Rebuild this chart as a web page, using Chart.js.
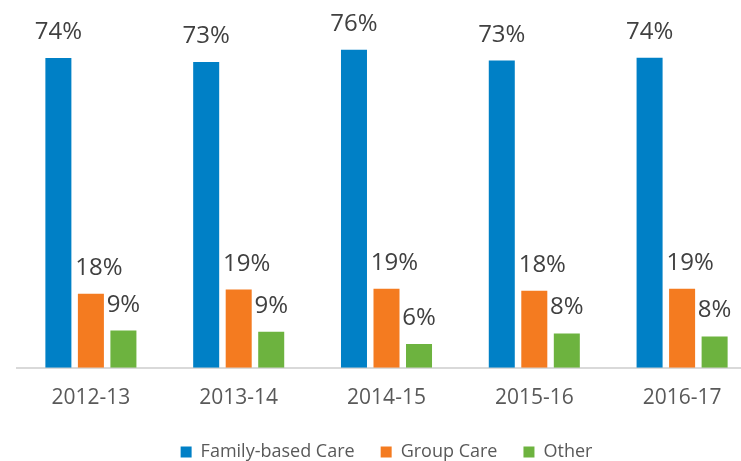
<!DOCTYPE html>
<html>
<head>
<meta charset="utf-8">
<script src="https://cdn.jsdelivr.net/npm/chart.js@4"></script>
<style>
  html, body { margin: 0; padding: 0; background: #fff; overflow: hidden; }
  .wrap { position: relative; width: 782px; height: 471px; }
</style>
</head>
<body>
<div class="wrap"><canvas id="careChart"></canvas></div>
<script>
// Placement type shares by year (percent)
const YEARS = ['2012-13', '2013-14', '2014-15', '2015-16', '2016-17'];
const FAMILY_CARE = [74.0, 73.1, 76.0, 73.4, 74.1];
const GROUP_CARE = [17.7, 18.7, 18.9, 18.4, 18.9];
const OTHER_CARE = [8.9, 8.6, 5.7, 8.2, 7.5];

const FONT = "'Open Sans', 'DejaVu Sans', sans-serif";

// value labels above each bar
const barLabels = {
    id: 'barLabels',
    afterDatasetsDraw(chart) {
        const ctx = chart.ctx;
        ctx.save();
        ctx.font = '24px ' + FONT;
        ctx.fillStyle = '#404040';
        ctx.textAlign = 'center';
        ctx.textBaseline = 'alphabetic';
        chart.data.datasets.forEach((ds, i) => {
            const meta = chart.getDatasetMeta(i);
            const shift = i === 1 ? 8 : 0;
            meta.data.forEach((bar, j) => {
                ctx.fillText(Math.round(ds.data[j]) + '%', bar.x + shift, bar.y - 19);
            });
        });
        ctx.restore();
    }
};

new Chart(document.getElementById('careChart'), {
    type: 'bar',
    data: {
        labels: YEARS,
        datasets: [
            { label: 'Family-based Care', data: FAMILY_CARE, backgroundColor: '#0080C6' },
            { label: 'Group Care', data: GROUP_CARE, backgroundColor: '#F47B20' },
            { label: 'Other', data: OTHER_CARE, backgroundColor: '#6DB33F' }
        ]
    },
    options: {
        responsive: true, maintainAspectRatio: false,
        animation: false,
        categoryPercentage: 0.66,
        barPercentage: 0.8,
        layout: { padding: { left: 17, right: 26, top: 33, bottom: 0 } },
        plugins: {
            tooltip: { enabled: false },
            legend: {
                position: 'bottom',
                labels: {
                    font: { family: FONT, size: 18 },
                    color: '#595959',
                    boxWidth: 11, boxHeight: 11,
                    padding: 26
                }
            }
        },
        scales: {
            y: { display: false, min: 0, max: 80 },
            x: {
                grid: { display: false, drawTicks: false },
                border: { display: true, color: '#D9D9D9', width: 2 },
                ticks: { font: { family: FONT, size: 21 }, color: '#595959', padding: 18 },
                // pull the legend up: its padding also spaces the items apart
                afterFit(scale) { scale.height -= 12; }
            }
        }
    },
    plugins: [barLabels]
});
</script>
</body>
</html>
